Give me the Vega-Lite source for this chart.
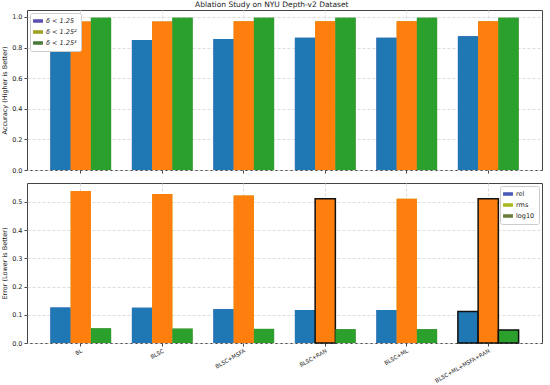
{
  "$schema": "https://vega.github.io/schema/vega-lite/v6.json",
  "padding": {"left": 1, "top": 1, "right": 0, "bottom": 0},
  "background": "white",
  "title": {"text": "Ablation Study on NYU Depth-v2 Dataset", "fontSize": 7.5, "fontWeight": "normal", "font": "DejaVu Sans", "color": "#222", "offset": 1, "anchor": "middle"},
  "config": {
    "font": "DejaVu Sans",
    "view": {"stroke": "#444", "strokeWidth": 1},
    "axis": {"labelFontSize": 6.5, "titleFontSize": 6.5, "titleFontWeight": "normal", "labelColor": "#222", "titleColor": "#222", "gridColor": "#dddddd", "gridDash": [3, 2], "tickColor": "#444", "tickSize": 3, "domain": false, "labelPadding": 2},
    "legend": {"labelFontSize": 6.5, "labelColor": "#222", "strokeColor": "#ccc", "fillColor": "white", "padding": 4, "rowPadding": 3, "cornerRadius": 2}
  },
  "resolve": {"scale": {"color": "independent", "fill": "independent", "xOffset": "independent", "y": "independent"}, "legend": {"color": "independent"}},
  "datasets": {
    "acc": [
      {"method": "BL", "metric": "δ < 1.25", "value": 0.844},
      {"method": "BL", "metric": "δ < 1.25²", "value": 0.970},
      {"method": "BL", "metric": "δ < 1.25³", "value": 0.994},
      {"method": "BLSC", "metric": "δ < 1.25", "value": 0.849},
      {"method": "BLSC", "metric": "δ < 1.25²", "value": 0.970},
      {"method": "BLSC", "metric": "δ < 1.25³", "value": 0.994},
      {"method": "BLSC+MSFA", "metric": "δ < 1.25", "value": 0.855},
      {"method": "BLSC+MSFA", "metric": "δ < 1.25²", "value": 0.971},
      {"method": "BLSC+MSFA", "metric": "δ < 1.25³", "value": 0.994},
      {"method": "BLSC+RAN", "metric": "δ < 1.25", "value": 0.864},
      {"method": "BLSC+RAN", "metric": "δ < 1.25²", "value": 0.972},
      {"method": "BLSC+RAN", "metric": "δ < 1.25³", "value": 0.994},
      {"method": "BLSC+ML", "metric": "δ < 1.25", "value": 0.864},
      {"method": "BLSC+ML", "metric": "δ < 1.25²", "value": 0.972},
      {"method": "BLSC+ML", "metric": "δ < 1.25³", "value": 0.994},
      {"method": "BLSC+ML+MSFA+RAN", "metric": "δ < 1.25", "value": 0.873},
      {"method": "BLSC+ML+MSFA+RAN", "metric": "δ < 1.25²", "value": 0.972},
      {"method": "BLSC+ML+MSFA+RAN", "metric": "δ < 1.25³", "value": 0.994}
    ],
    "err": [
      {"method": "BL", "metric": "rel", "value": 0.126, "best": false},
      {"method": "BL", "metric": "rms", "value": 0.539, "best": false},
      {"method": "BL", "metric": "log10", "value": 0.052, "best": false},
      {"method": "BLSC", "metric": "rel", "value": 0.125, "best": false},
      {"method": "BLSC", "metric": "rms", "value": 0.528, "best": false},
      {"method": "BLSC", "metric": "log10", "value": 0.051, "best": false},
      {"method": "BLSC+MSFA", "metric": "rel", "value": 0.120, "best": false},
      {"method": "BLSC+MSFA", "metric": "rms", "value": 0.523, "best": false},
      {"method": "BLSC+MSFA", "metric": "log10", "value": 0.050, "best": false},
      {"method": "BLSC+RAN", "metric": "rel", "value": 0.117, "best": false},
      {"method": "BLSC+RAN", "metric": "rms", "value": 0.511, "best": true},
      {"method": "BLSC+RAN", "metric": "log10", "value": 0.049, "best": false},
      {"method": "BLSC+ML", "metric": "rel", "value": 0.117, "best": false},
      {"method": "BLSC+ML", "metric": "rms", "value": 0.511, "best": false},
      {"method": "BLSC+ML", "metric": "log10", "value": 0.049, "best": false},
      {"method": "BLSC+ML+MSFA+RAN", "metric": "rel", "value": 0.112, "best": true},
      {"method": "BLSC+ML+MSFA+RAN", "metric": "rms", "value": 0.511, "best": true},
      {"method": "BLSC+ML+MSFA+RAN", "metric": "log10", "value": 0.046, "best": true}
    ]
  },
  "vconcat": [
    {
      "width": 515,
      "height": 160,
      "data": {"name": "acc"},
      "encoding": {
        "x": {"field": "method", "type": "nominal", "sort": null,
          "scale": {"paddingInner": 0.255, "paddingOuter": 0.287},
          "axis": {"labels": false, "title": null, "grid": true, "bandPosition": 0.5, "tickSize": 3}},
        "xOffset": {"field": "metric", "type": "nominal", "sort": null, "scale": {"paddingInner": 0, "paddingOuter": 0}},
        "y": {"field": "value", "type": "quantitative",
          "scale": {"domain": [0, 1.045], "nice": false},
          "axis": {"title": "Accuracy (Higher is Better)", "values": [0, 0.2, 0.4, 0.6, 0.8, 1.0], "format": ".1f", "titlePadding": 4}}
      },
      "layer": [
        {
          "mark": {"type": "bar"},
          "encoding": {
            "color": {"field": "metric", "type": "nominal", "sort": null,
              "scale": {"domain": ["δ < 1.25", "δ < 1.25²", "δ < 1.25³"], "range": ["#5a4fb0", "#a0a020", "#4a7a3a"]},
              "legend": {"title": null, "orient": "top-left", "offset": 3,
                "symbolType": "M-1.4,-0.5H1.4V0.5H-1.4Z", "symbolSize": 50, "symbolStrokeWidth": 0, "labelFontStyle": "italic"}}
          }
        },
        {
          "mark": {"type": "bar"},
          "encoding": {
            "fill": {"field": "metric", "type": "nominal", "sort": null,
              "scale": {"domain": ["δ < 1.25", "δ < 1.25²", "δ < 1.25³"], "range": ["#1f77b4", "#ff7f0e", "#2ca02c"]},
              "legend": null}
          }
        }
      ]
    },
    {
      "width": 515,
      "height": 160,
      "data": {"name": "err"},
      "encoding": {
        "x": {"field": "method", "type": "nominal", "sort": null,
          "scale": {"paddingInner": 0.255, "paddingOuter": 0.287},
          "axis": {"title": null, "labelAngle": -30, "grid": true, "bandPosition": 0.5, "labelFontSize": 5.5, "labelPadding": 2, "tickSize": 3}},
        "xOffset": {"field": "metric", "type": "nominal", "sort": null, "scale": {"paddingInner": 0, "paddingOuter": 0}},
        "y": {"field": "value", "type": "quantitative",
          "scale": {"domain": [0, 0.567], "nice": false},
          "axis": {"title": "Error (Lower is Better)", "values": [0, 0.1, 0.2, 0.3, 0.4, 0.5], "format": ".1f", "titlePadding": 4}}
      },
      "layer": [
        {
          "mark": {"type": "bar"},
          "encoding": {
            "color": {"field": "metric", "type": "nominal", "sort": null,
              "scale": {"domain": ["rel", "rms", "log10"], "range": ["#4a5ab8", "#a8b820", "#6a7a3a"]},
              "legend": {"title": null, "orient": "top-right", "offset": 3,
                "symbolType": "M-1.4,-0.5H1.4V0.5H-1.4Z", "symbolSize": 50, "symbolStrokeWidth": 0}}
          }
        },
        {
          "mark": {"type": "bar", "stroke": "#111"},
          "encoding": {
            "fill": {"field": "metric", "type": "nominal", "sort": null,
              "scale": {"domain": ["rel", "rms", "log10"], "range": ["#1f77b4", "#ff7f0e", "#2ca02c"]},
              "legend": null},
            "strokeWidth": {"condition": {"test": "datum.best", "value": 1.5}, "value": 0}
          }
        }
      ]
    }
  ],
  "spacing": 8
}
